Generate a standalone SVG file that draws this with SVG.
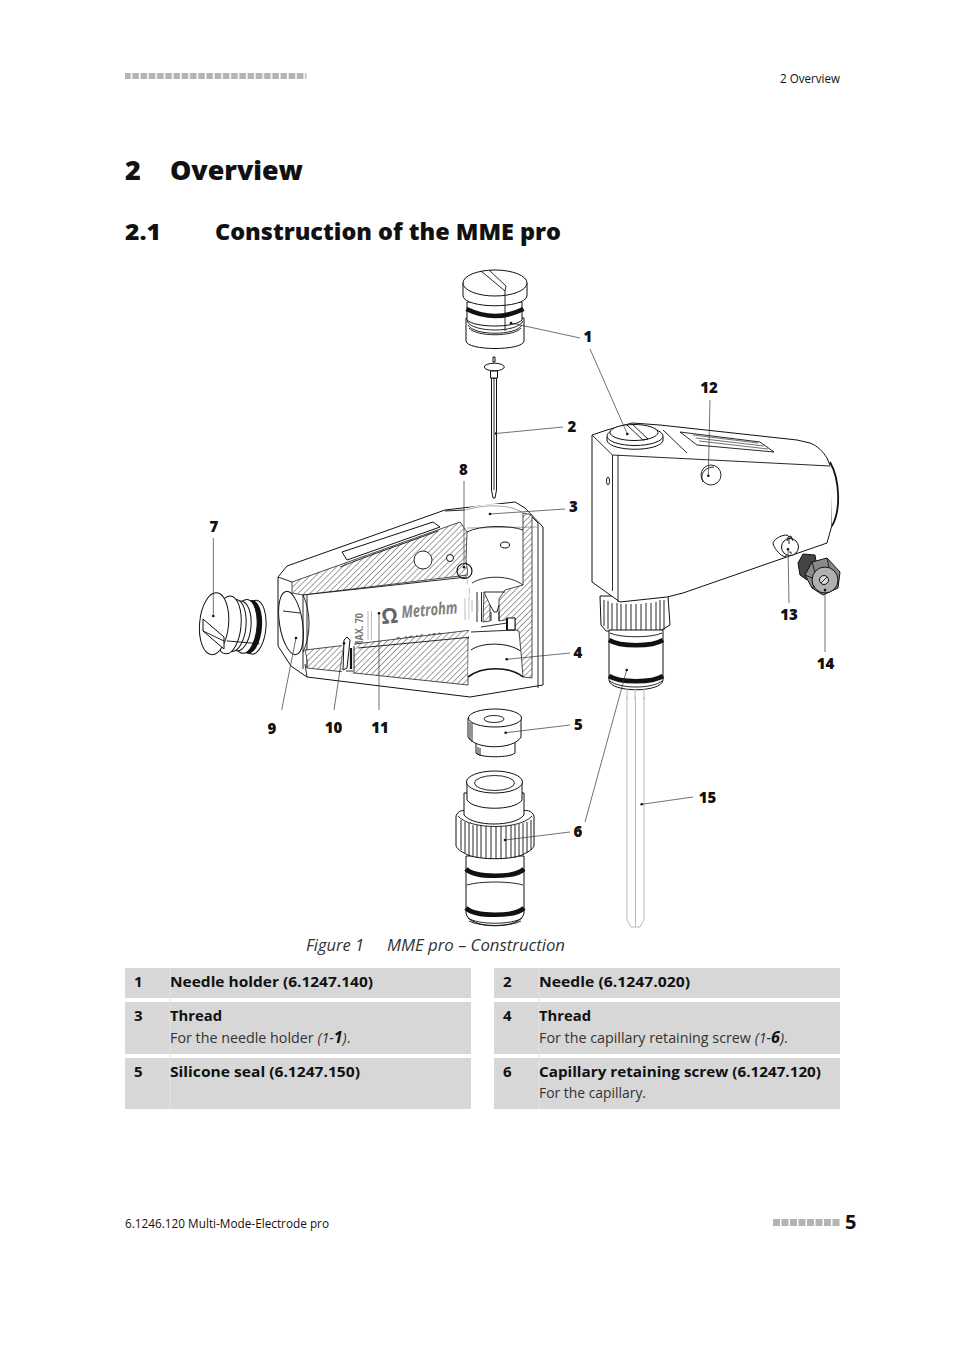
<svg xmlns="http://www.w3.org/2000/svg" width="954" height="1350" viewBox="0 0 954 1350">
<style>
text{font-family:"Open Sans","Noto Sans","DejaVu Sans",sans-serif;fill:#111}
.h1{font-size:27px;font-weight:800}
.h2{font-size:22.5px;font-weight:800}
.lab{font-size:15px;font-weight:800;text-anchor:middle}
.hd{font-size:12px}
.b{font-size:15px;font-weight:700}
.t{font-size:14.3px;fill:#333}
.cap{font-size:16px;font-style:italic;fill:#333}
.p{fill:#fff;stroke:#111;stroke-width:1;stroke-linejoin:round}
.n{fill:none;stroke:#111;stroke-width:.9}
.k{fill:none;stroke:#111;stroke-width:4.6}
.gl{fill:none;stroke:#bbb;stroke-width:1}
.ld{stroke:#333;stroke-width:.7;fill:none}
.dot{fill:#111;stroke:none}
.r{fill:#d7d7d7}
.sq{fill:#b4b4b4}
.hatch{fill:url(#ha);stroke:#222;stroke-width:.8}
.w{fill:#fff;stroke:none}
</style>
<defs>
<pattern id="ha" width="4.2" height="4.2" patternUnits="userSpaceOnUse" patternTransform="rotate(45)">
<rect width="4.2" height="4.2" fill="#fff"/><line x1="0" y1="0" x2="0" y2="4.2" stroke="#444" stroke-width="1"/>
</pattern>
<pattern id="sq1" width="8.23" height="8" patternUnits="userSpaceOnUse"><rect x=".6" y="0" width="6.6" height="7" fill="#b4b4b4"/></pattern>
</defs>
<rect width="954" height="1350" fill="#fff"/>

<g id="page-header">
<rect x="125" y="73" width="181.500" height="7" fill="url(#sq1)"/>
<text class="hd" x="780" y="83" textLength="60" lengthAdjust="spacingAndGlyphs">2 Overview</text>
</g>
<g id="headings">
<text class="h1" x="125" y="180">2</text>
<text class="h1" x="170" y="180" textLength="133" lengthAdjust="spacingAndGlyphs">Overview</text>
<text class="h2" x="125" y="240" textLength="36" lengthAdjust="spacingAndGlyphs">2.1</text>
<text class="h2" x="215" y="240" textLength="346" lengthAdjust="spacingAndGlyphs">Construction of the MME pro</text>
</g>

<g id="part-needle-holder">
<path class="p" d="M466 318V341C467 351 523 351 524 341V318Z"/>
<path class="p" d="M467 302V320C475 328 515 328 522 320V302Z"/>
<path class="k" d="M466.500 309Q495 323 523.500 309"/>
<path class="n" d="M467 321C472 333 518 333 523 321M468 325C474 336 516 336 522 325M469 328C476 337 514 337 521 328"/>
<path class="p" d="M463 283V296C465 309 525 309 527 296V283Z"/>
<ellipse class="p" cx="495" cy="283" rx="32" ry="13"/>
<path class="n" d="M481 271L505 291M489 270L506 286 505 291M505 291V331"/>
</g>
<g id="part-needle">
<path class="p" d="M491.500 378H496.500V490L495 498H493L491.500 490Z"/>
<path class="n" d="M494 378V490"/>
<path class="p" d="M493 357H495V362H493Z"/>
<ellipse class="p" cx="494.300" cy="367" rx="10" ry="3.800"/>
<path class="p" d="M490.500 371H497.500V378H490.500Z"/>
</g>

<g id="part-body-section">
<path class="p" d="M287 566L445 510 515 502 525 508 543 527V685L470 697 307 677 291 666 278 646V577Z"/>
<path class="n" d="M445 511L465 510M530 515L538 523V688M307 677L305 664"/>
<path class="n" d="M278 577L292 582"/>
<path class="p" d="M342 552L433 522 440 527 347 560Z"/>
<path class="hatch" d="M292 582L460 522 467 532 466 560 468 575 303 595 292 593Z"/>
<circle class="w" cx="423" cy="560" r="9"/><circle class="n" cx="423" cy="560" r="9"/>
<circle class="p" cx="450" cy="558" r="3.500"/>
<ellipse class="p" cx="291" cy="623" rx="11.500" ry="32" transform="rotate(-9 291 623)"/>
<path class="n" d="M283 611L300 613"/>
<path class="w" d="M303 595L467 577C472 595 470 615 473 630L303 652C311 635 311 612 303 595Z"/>
<path class="n" d="M303 595L467 577M303 595V669M307 595V668"/>
<path d="M303 595C311 612 311 635 303 652" fill="none" stroke="#111" stroke-width=".9"/>
<path class="gl" d="M467 580C472 595 470 615 473 628"/>
<g id="body-print">
<text x="402" y="618" transform="rotate(-5 402 618)" font-size="17" font-weight="700" font-style="italic" textLength="56" lengthAdjust="spacingAndGlyphs" style="fill:#808080">Metrohm</text>
<text x="382" y="624" transform="rotate(-5 382 624)" font-size="21" font-weight="700" style="fill:#666">Ω</text>
<text x="396" y="645" transform="rotate(-6 396 645)" font-size="11" font-weight="700" textLength="47" lengthAdjust="spacingAndGlyphs" style="fill:#777">6.1246.120</text>
<text x="363" y="649" transform="rotate(-90 363 649)" font-size="11" font-weight="700" textLength="36" lengthAdjust="spacingAndGlyphs" style="fill:#777">MAX. 70</text>
<path class="gl" d="M368 611V640M371.500 611V640M465 598V620M469 597V620"/>
</g>
<path class="hatch" d="M305 650L472 630V636L468 638 468 685 307 668C308 660 306 655 305 650Z"/>
<path class="n" d="M358 648L472 637"/>
<path class="w" d="M342 640H354V673H342Z"/>
<path class="p" d="M344 640L347 637 350 640 347 668 343 670Z"/>
<path d="M351 648V669" stroke="#111" stroke-width="2.200" fill="none"/>
<path class="n" d="M354 646V673M346 671H353"/>
<path class="w" d="M468 508C490 502 510 502 523 512V588H468Z"/>
<path class="w" d="M470 590H523V678H468Z"/>
<path class="hatch" d="M523 513L532 515 532 678 523 677 521.500 658 519 631 515 630 515 618 499 621 499 599 505 590 523 585Z"/>
<path class="n" d="M466 510C485 504 510 504 523 513M467 528L537 527" style="stroke:#666;stroke-width:.6"/>
<path class="n" d="M467 532C480 525 510 525 523 530"/>
<path class="n" d="M472 583C485 575 510 575 523 585"/>
<ellipse class="p" cx="505" cy="545" rx="4.500" ry="3"/>
<circle class="n" cx="464.500" cy="571" r="7.500" style="stroke-width:1.200"/>
<path class="hatch" d="M484 592L490 605V621L483 622Z"/>
<path class="n" d="M477 592V622M481.500 592V622M484 592H505M490 605L494 612H497L499 605M491 621V612M499 621V612"/>
<path class="gl" d="M472 600V612M478 600V612"/>
<path class="p" d="M507 618H515V630H507Z"/>
<path d="M507 618V630" stroke="#111" stroke-width="2"/>
<path class="n" d="M481 627L507 623M471 632L515 630"/>
<path class="n" d="M471 650C482 642 508 642 520.500 651" style="stroke-width:1"/>
<path d="M468 677C482 666 510 666 523 677" fill="none" stroke="#111" stroke-width="1.600"/>
<path class="n" d="M340 567C370 555 400 545 438 531"/>
</g>

<g id="part-plug">
<g transform="rotate(5 240 626)">
<ellipse class="p" cx="254" cy="626" rx="12" ry="27"/>
<ellipse cx="250" cy="626" rx="12" ry="27" fill="#111"/>
<ellipse class="p" cx="245" cy="626" rx="12" ry="27"/>
<ellipse class="p" cx="239" cy="626" rx="12" ry="25"/>
<ellipse class="p" cx="234" cy="626" rx="12" ry="26"/>
<ellipse class="p" cx="228" cy="626" rx="13" ry="29"/>
<ellipse class="p" cx="214" cy="626" rx="14.500" ry="31"/>
<path class="n" d="M228 642H261"/>
</g>
<path class="p" d="M203 619L224 637V649L203 631Z"/>
<path class="n" d="M203 631L224 641"/>
</g>

<g id="part-assembly">
<path class="p" d="M600 596H668L670 625 660 631H606L601 625Z"/>
<path class="n" d="M604 600V626M608 601V629M612 603V631M617 603V632M621 604V632M626 604V632M631 604V632M636 604V632M641 604V632M646 603V632M651 603V632M656 602V631M660 600V631M664 600V630"/>
<path class="p" d="M609 630H663V680C662 693 610 693 609 680Z"/>
<path class="k" d="M609 640C620 647 652 647 663 640"/>
<path class="k" d="M609 676C620 683 652 683 663 676"/>
<path class="n" d="M610 633C620 638 652 638 662 633M610 681C620 689 652 689 662 681"/>
<path class="gl" d="M627 689V700M635 689V700M644 689V700"/>
<path class="p" d="M592 435L607 430 632 423 660 425 797 440 810 443C818 446 823 452 827 458L832 470V525L827 543 683 593 667 597 620 602 592 582Z"/>
<path d="M830 462C840 480 841 510 832 526" fill="#fff" stroke="#111" stroke-width="1.800"/>
<path class="n" d="M612.500 455V591M618 455V602M612.500 455L830 466M592 435L612.500 455"/>
<path class="n" d="M663 430L687 453"/>
<path class="n" d="M680 432L760 442 774 452 697 445Z"/>
<path class="n" d="M693 435L758 443M696 438L764 446M699 441L768 449" style="stroke-width:.6"/>
<path class="p" d="M607 437V441C612 452 658 452 663 441V437Z"/>
<ellipse class="p" cx="635" cy="436" rx="28" ry="9.500"/>
<ellipse class="p" cx="634" cy="432.500" rx="24" ry="8"/>
<path class="n" d="M627 425L643 440 648 439 632 424"/>
<ellipse class="n" cx="608" cy="481" rx="1.500" ry="4"/>
<circle class="n" cx="711" cy="475" r="10"/>
<path class="n" d="M703 482C699 473 706 467 714 467"/>
<path class="p" d="M787 535C780 535 773 540 773 544 776 551 780 555 785 557L796 542Z"/>
<circle class="p" cx="790" cy="547" r="8.500"/>
<path class="n" d="M787 541L788 537 791 536 793 541M789 538V544M789 552H791V554"/>
</g>

<g id="part-knob">
<path d="M798 563L803 554 815 555 817 568 807 580 800 575Z" fill="#444" stroke="#111"/>
<path d="M812 562L827 558 840 572 838 588 823 595 812 588 805 575Z" fill="#8a8a8a" stroke="#111"/>
<circle cx="825" cy="580" r="13" fill="#b0b0b0" stroke="#111"/>
<circle cx="824" cy="580" r="4.500" fill="#ddd" stroke="#111"/>
<path class="n" d="M821 583L827 577M812 562L815 572M827 558L829 567M805 575L812 578M812 588L815 586"/>
</g>

<g id="part-seal">
<path class="p" d="M476 740V753C480 758 510 758 515 753V740Z"/>
<path class="p" d="M468 718V737C475 750 514 750 521 737V718Z"/>
<ellipse class="p" cx="495" cy="718" rx="26.500" ry="9"/>
<ellipse class="n" cx="494" cy="719" rx="10" ry="3.500"/>
<path class="n" d="M470 722V740M472 723V742M478 747V755M480 748V756"/>
</g>

<g id="part-retaining-screw">
<path class="p" d="M466 856H524V913C522 930 468 930 466 913Z"/>
<path class="k" d="M466 869C475 878 515 878 524 869"/>
<path class="k" d="M466 908C475 917 515 917 524 908"/>
<path class="n" d="M467 885C480 881 510 881 523 885M468 918C478 925 512 925 522 918M469 921C480 927 510 927 521 921"/>
<path class="p" d="M456 816C458 810 464 810 467 811H522C526 810 532 810 534 816V846C532 850 528 852 522 855 510 860 480 860 468 855 462 852 458 850 456 846Z"/>
<path class="n" d="M461 820V850M465 822V853M469 823V855M473 825V857M477 825V858M481 825V858M486 826V859M491 826V859M496 826V859M501 826V859M506 826V858M511 825V858M515 825V858M519 824V856M523 823V855M527 822V853M531 820V850"/>
<path class="n" d="M458 816C470 830 520 830 532 816"/>
<path class="p" d="M464 793H524V815C515 827 473 827 464 815Z"/>
<path class="p" d="M467 782H522V800C515 811 474 811 467 800Z"/>
<ellipse class="p" cx="494.500" cy="782" rx="28" ry="11"/>
<ellipse class="n" cx="494.500" cy="783" rx="20" ry="7.500"/>
</g>

<g id="part-capillary">
<path class="gl" d="M627 697V920L631 927H640L644 920V697M635.500 697V927"/>
</g>

<g id="connectors">
<path class="ld" d="M511 323L580 338M590 349L627.300 434M496 433.500L563 427M490 514L565 509M506.700 659.300L570 653M505.700 732.700L570 725M505 840L570 832M626.700 670L585 822M213.300 616V538M464 567.300V481M296 638L281.700 710M344 643.300L334 710M379 613.300V710M708.300 475.700L710 400M788 549.300L789 603M825 590V652M641.700 804.300L693 797"/>
<g class="dot">
<circle cx="511" cy="323" r="1.300"/><circle cx="627.300" cy="434" r="1.300"/><circle cx="496" cy="433.500" r="1.300"/><circle cx="490" cy="514" r="1.300"/><circle cx="506.700" cy="659.300" r="1.300"/><circle cx="505.700" cy="732.700" r="1.300"/><circle cx="505" cy="840" r="1.300"/><circle cx="626.700" cy="670" r="1.300"/><circle cx="213.300" cy="616" r="1.300"/><circle cx="464" cy="567.300" r="1.300"/><circle cx="296" cy="638" r="1.300"/><circle cx="344" cy="643.300" r="1.300"/><circle cx="379" cy="613.300" r="1.300"/><circle cx="708.300" cy="475.700" r="1.300"/><circle cx="788" cy="549.300" r="1.300"/><circle cx="825" cy="590" r="1.300"/><circle cx="641.700" cy="804.300" r="1.300"/>
</g>
</g>

<g id="labels">
<text class="lab" x="588" y="342">1</text>
<text class="lab" x="572" y="432">2</text>
<text class="lab" x="573.500" y="512">3</text>
<text class="lab" x="578" y="658">4</text>
<text class="lab" x="578.500" y="730">5</text>
<text class="lab" x="578" y="837">6</text>
<text class="lab" x="214" y="532">7</text>
<text class="lab" x="463.500" y="475">8</text>
<text class="lab" x="272" y="734">9</text>
<text class="lab" x="333.500" y="733">10</text>
<text class="lab" x="380" y="733">11</text>
<text class="lab" x="709" y="393">12</text>
<text class="lab" x="789" y="620">13</text>
<text class="lab" x="825.500" y="669">14</text>
<text class="lab" x="707.500" y="803">15</text>
</g>

<g id="caption">
<text class="cap" x="306" y="951" textLength="58" lengthAdjust="spacingAndGlyphs">Figure 1</text>
<text class="cap" x="387" y="951" textLength="178" lengthAdjust="spacingAndGlyphs">MME pro – Construction</text>
</g>

<g id="table">
<rect class="r" x="125" y="968" width="346" height="30"/><rect class="r" x="494" y="968" width="346" height="30"/>
<rect class="r" x="125" y="1002" width="346" height="52"/><rect class="r" x="494" y="1002" width="346" height="52"/>
<rect class="r" x="125" y="1058" width="346" height="51"/><rect class="r" x="494" y="1058" width="346" height="51"/>
<path d="M170 968V1109M539 968V1109" stroke="#e4e4e4" stroke-width="1"/>
<text class="b" x="134" y="987">1</text>
<text class="b" x="170" y="987" textLength="203" lengthAdjust="spacingAndGlyphs">Needle holder (6.1247.140)</text>
<text class="b" x="503" y="987">2</text>
<text class="b" x="539" y="987" textLength="151" lengthAdjust="spacingAndGlyphs">Needle (6.1247.020)</text>
<text class="b" x="134" y="1021">3</text>
<text class="b" x="170" y="1021" textLength="52" lengthAdjust="spacingAndGlyphs">Thread</text>
<text class="t" x="170" y="1043">For the needle holder <tspan font-style="italic">(1-</tspan><tspan font-style="italic" font-weight="700" style="fill:#111" font-size="16">1</tspan><tspan font-style="italic">)</tspan>.</text>
<text class="b" x="503" y="1021">4</text>
<text class="b" x="539" y="1021" textLength="52" lengthAdjust="spacingAndGlyphs">Thread</text>
<text class="t" x="539" y="1043">For the capillary retaining screw <tspan font-style="italic">(1-</tspan><tspan font-style="italic" font-weight="700" style="fill:#111" font-size="16">6</tspan><tspan font-style="italic">)</tspan>.</text>
<text class="b" x="134" y="1077">5</text>
<text class="b" x="170" y="1077" textLength="190" lengthAdjust="spacingAndGlyphs">Silicone seal (6.1247.150)</text>
<text class="b" x="503" y="1077">6</text>
<text class="b" x="539" y="1077" textLength="282" lengthAdjust="spacingAndGlyphs">Capillary retaining screw (6.1247.120)</text>
<text class="t" x="539" y="1098" textLength="107" lengthAdjust="spacingAndGlyphs">For the capillary.</text>
</g>

<g id="page-footer">
<text class="hd" x="125" y="1228" textLength="204" lengthAdjust="spacingAndGlyphs">6.1246.120 Multi-Mode-Electrode pro</text>
<g class="sq"><rect x="773" y="1219" width="7" height="7"/><rect x="781.500" y="1219" width="7" height="7"/><rect x="790" y="1219" width="7" height="7"/><rect x="798.500" y="1219" width="7" height="7"/><rect x="807" y="1219" width="7" height="7"/><rect x="815.500" y="1219" width="7" height="7"/><rect x="824" y="1219" width="7" height="7"/><rect x="832.500" y="1219" width="7" height="7"/></g>
<text x="845" y="1229" font-size="20" font-weight="700">5</text>
</g>
</svg>
